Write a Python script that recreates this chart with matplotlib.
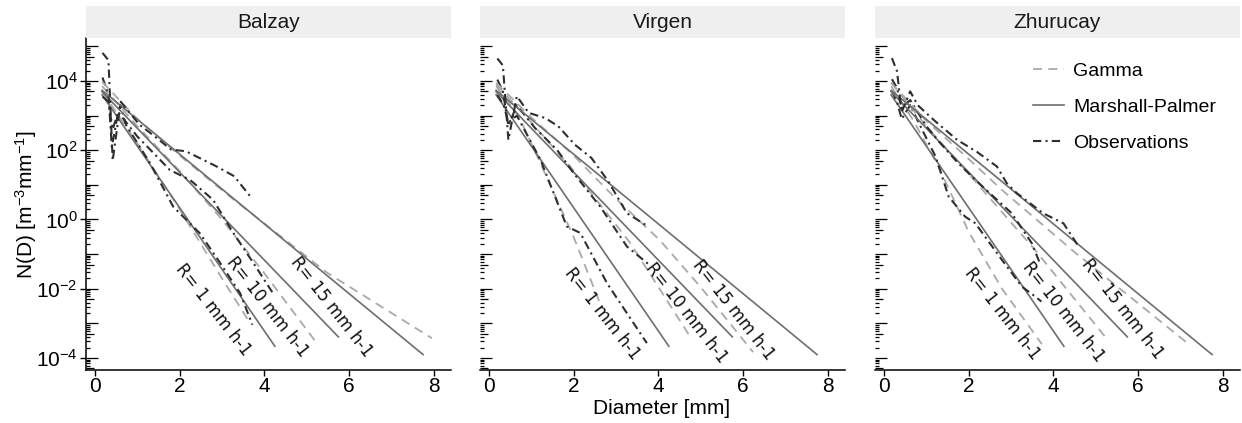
import numpy as np
import matplotlib
matplotlib.use("Agg")
import matplotlib.pyplot as plt
from matplotlib.lines import Line2D
from matplotlib.patches import Rectangle
from matplotlib.transforms import blended_transform_factory

plt.rcParams["font.family"] = ["Liberation Sans", "DejaVu Sans"]
plt.rcParams["mathtext.fontset"] = "custom"
plt.rcParams["mathtext.rm"] = "Liberation Sans"
plt.rcParams["mathtext.it"] = "Liberation Sans:italic"
plt.rcParams["mathtext.bf"] = "Liberation Sans:bold"

stations = ["Balzay", "Virgen", "Zhurucay"]
rates = [1, 10, 15]
series_names = ["Gamma", "Marshall-Palmer", "Observations"]

# values, stored as log10 N(D)
# Marshall-Palmer is the same in every panel
mp_d = [[0.17, 4.25], [0.17, 5.75], [0.17, 7.75]]
mp_logn = [[3.60, -3.66], [3.69, -3.39], [3.73, -3.90]]

balzay_gamma_d = [
    [0.17, 1.0, 2.0, 3.0, 3.67],
    [0.17, 1.0, 2.0, 3.0, 4.0, 5.24],
    [0.17, 1.0, 2.0, 3.19, 5.5, 7.96],
]
balzay_gamma_logn = [
    [3.70, 2.20, 0.30, -1.70, -3.00],
    [3.85, 2.70, 1.40, 0.00, -1.55, -3.57],
    [3.98, 2.90, 1.85, 0.66, -1.55, -3.43],
]
balzay_obs_d = [
    [0.18, 0.32, 0.42, 0.60, 0.73, 1.30, 1.85, 2.48, 2.96, 3.43, 3.72],
    [0.18, 0.32, 0.40, 0.55, 1.00, 1.40, 1.77, 2.25, 2.79, 3.27, 3.74, 4.20],
    [0.18, 0.32, 0.42, 0.61, 1.05, 1.36, 1.80, 2.15, 2.86, 3.29, 3.70],
]
balzay_obs_logn = [
    [3.55, 3.40, 2.60, 3.30, 2.74, 1.63, 0.37, -0.40, -1.26, -2.13, -3.04],
    [4.10, 3.60, 2.10, 3.10, 2.40, 1.90, 1.43, 1.14, 0.57, -0.39, -1.25, -2.12],
    [4.81, 4.60, 1.70, 3.40, 2.74, 2.45, 2.02, 1.97, 1.54, 1.25, 0.62],
]

virgen_gamma_d = [
    [0.17, 0.7, 1.3, 2.0, 2.65],
    [0.17, 1.0, 1.92, 3.34, 4.75],
    [0.17, 1.0, 2.0, 3.0, 4.04, 5.0, 6.24],
]
virgen_gamma_logn = [
    [3.85, 3.00, 1.40, -0.50, -2.50],
    [3.90, 2.80, 1.53, -0.68, -3.38],
    [3.95, 2.95, 1.85, 0.60, -0.60, -1.95, -3.83],
]
virgen_obs_d = [
    [0.20, 0.35, 0.46, 0.66, 1.22, 1.84, 2.16, 2.79, 3.73],
    [0.20, 0.33, 0.46, 0.66, 1.09, 1.61, 2.00, 2.63, 3.26, 3.78],
    [0.20, 0.33, 0.46, 0.66, 0.94, 1.33, 1.64, 2.03, 2.42, 2.82, 3.26, 3.50, 3.73],
]
virgen_obs_logn = [
    [3.60, 3.30, 2.80, 3.00, 1.72, -0.20, -0.39, -1.84, -3.57],
    [4.04, 3.70, 2.70, 3.30, 2.64, 2.01, 1.34, 0.37, -0.78, -1.30],
    [4.65, 4.45, 2.30, 3.56, 3.08, 2.93, 2.69, 2.16, 1.78, 1.10, 0.18, 0.00, -0.18],
]

zhurucay_gamma_d = [
    [0.17, 0.7, 1.3, 2.0, 2.79, 3.73],
    [0.17, 1.0, 1.92, 3.57, 5.22],
    [0.17, 1.0, 2.0, 2.79, 4.51, 7.22],
]
zhurucay_gamma_logn = [
    [3.85, 2.85, 1.50, -0.35, -2.00, -3.60],
    [3.95, 2.70, 1.43, -0.88, -3.38],
    [3.95, 2.85, 1.75, 0.85, -0.95, -3.62],
]
zhurucay_obs_d = [
    [0.19, 0.31, 0.42, 0.62, 0.90, 1.22, 1.53, 1.92, 2.16, 2.79, 3.26, 3.57, 3.72],
    [0.19, 0.31, 0.42, 0.62, 1.00, 1.30, 1.76, 2.24, 3.02, 3.49, 3.68],
    [0.19, 0.31, 0.42, 0.62, 0.80, 1.20, 1.73, 2.20, 2.67, 2.90, 3.14, 3.76, 4.24, 4.60],
]
zhurucay_obs_logn = [
    [3.70, 3.40, 2.90, 3.30, 2.60, 1.82, 0.66, 0.08, -0.11, -1.17, -1.94, -2.22, -2.37],
    [4.05, 3.80, 3.20, 3.45, 2.70, 2.25, 1.62, 1.05, 0.18, -0.68, -1.25],
    [4.66, 4.28, 3.10, 3.70, 3.30, 2.85, 2.30, 1.95, 1.53, 1.05, 0.76, 0.18, -0.11, -0.78],
]

gamma_d = [balzay_gamma_d, virgen_gamma_d, zhurucay_gamma_d]
gamma_logn = [balzay_gamma_logn, virgen_gamma_logn, zhurucay_gamma_logn]
obs_d = [balzay_obs_d, virgen_obs_d, zhurucay_obs_d]
obs_logn = [balzay_obs_logn, virgen_obs_logn, zhurucay_obs_logn]

# where the "R= ..." labels sit (D, log10 N) in each panel
label_pos = [
    [(2.79, -2.61), (4.07, -2.52), (5.58, -2.52)],
    [(2.67, -2.72), (4.67, -2.70), (5.78, -2.60)],
    [(2.80, -2.72), (4.25, -2.67), (5.63, -2.58)],
]

GAMMA_COL = "#a9a9a9"
MP_COL = "#6e6e6e"
OBS_COL = "#2e2e2e"
gamma_style = dict(color=GAMMA_COL, lw=1.3, dashes=(5, 3.5))
mp_style = dict(color=MP_COL, lw=1.2, ls="-")
obs_style = dict(color=OBS_COL, lw=1.5, dashes=(4, 2, 1, 2))

fig = plt.figure(figsize=(12.42, 4.23), dpi=100)
lefts = [86 / 1242, 480 / 1242, 875 / 1242]
width = 365 / 1242
bottom, height = 1 - 370 / 423, 332 / 423
strip_h = 32 / 423

ylog_lo, ylog_hi = -4.346, 5.241

for i, name in enumerate(stations):
    ax = fig.add_axes([lefts[i], bottom, width, height])
    ax.set_yscale("log")

    for j in range(len(rates)):
        ax.plot(gamma_d[i][j], np.power(10.0, gamma_logn[i][j]), **gamma_style)
        ax.plot(mp_d[j], np.power(10.0, mp_logn[j]), **mp_style)
        ax.plot(obs_d[i][j], np.power(10.0, obs_logn[i][j]), **obs_style)
        lx, ly = label_pos[i][j]
        ax.text(lx, 10 ** ly, f"R= {rates[j]} mm h-1", rotation=-52,
                rotation_mode="anchor", ha="center", va="center",
                fontsize=12, family="DejaVu Sans", color="#111111")

    ax.set_xlim(-0.21, 8.41)
    ax.set_ylim(10 ** ylog_lo, 10 ** ylog_hi)
    ax.set_xticks([0, 2, 4, 6, 8])
    ax.tick_params(axis="x", direction="out", length=4, width=1,
                   labelsize=15, pad=1, colors="black")
    for s in ["top", "right"]:
        ax.spines[s].set_visible(False)
    ax.spines["bottom"].set_linewidth(1.1)
    ax.yaxis.set_minor_locator(matplotlib.ticker.NullLocator())
    if i == 0:
        ax.set_yticks([1e-4, 1e-2, 1, 1e2, 1e4])
        ax.set_yticklabels([r"$10^{-4}$", r"$10^{-2}$", r"$10^{0}$",
                            r"$10^{2}$", r"$10^{4}$"])
        ax.tick_params(axis="y", direction="out", length=4, width=1,
                       labelsize=15, pad=2)
        ax.spines["left"].set_linewidth(1.1)
    else:
        ax.spines["left"].set_visible(False)
        ax.set_yticks([])

    # log ticks drawn inside the panel
    trans = blended_transform_factory(ax.transAxes, ax.transData)
    for k in range(-5, 6):
        for m in range(1, 10):
            y = m * 10.0 ** k
            if not (10 ** ylog_lo <= y <= 10 ** ylog_hi):
                continue
            tl = 0.033 if m == 1 else (0.022 if m == 5 else 0.011)
            ax.plot([0, tl], [y, y], transform=trans, color="black",
                    lw=0.9, clip_on=False, solid_capstyle="butt")

    # facet strip
    fig.add_artist(Rectangle((lefts[i], bottom + height), width, strip_h,
                             transform=fig.transFigure, color="#efefef", lw=0))
    fig.text(lefts[i] + width / 2, bottom + height + strip_h / 2, name,
             ha="center", va="center", fontsize=15, color="#1a1a1a")

    if i == 2:
        handles = [
            Line2D([], [], **gamma_style),
            Line2D([], [], **mp_style),
            Line2D([], [], **obs_style),
        ]
        ax.legend(handles, series_names, loc="upper left",
                  bbox_to_anchor=(0.385, 0.98), frameon=False, fontsize=14,
                  handlelength=1.6, handletextpad=0.45, labelspacing=0.95)

fig.text(26 / 1242, 1 - 205 / 423, r"N(D) [m$^{-3}$mm$^{-1}$]", rotation=90,
         ha="center", va="center", fontsize=15)
fig.text(662 / 1242, 1 - 408 / 423, "Diameter [mm]", ha="center",
         va="center", fontsize=15)

fig.savefig("out.png", dpi=100)
